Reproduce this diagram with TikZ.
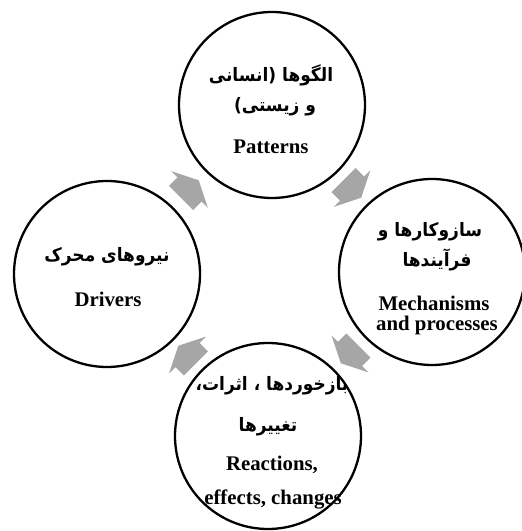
\documentclass[tikz,border=0pt]{standalone}
\usepackage{fontspec}
\setmainfont{Liberation Serif}
\newfontfamily\fa[Script=Arabic,FakeStretch=0.92]{DejaVu Sans}
\TeXXeTstate=1
\usetikzlibrary{calc}
\definecolor{arrowgray}{RGB}{166,166,166}
\tikzset{
  bubble/.style={circle, draw=black, line width=2.3pt, minimum size=186pt, inner sep=0pt},
  entext/.style={font=\fontsize{20.8}{24}\selectfont\bfseries, inner sep=0pt},
  fatext/.style={font=\fa\fontsize{18.5}{22}\selectfont\bfseries, inner sep=0pt},
  blockarrow/.style={fill=arrowgray, draw=none}
}
\newcommand{\cyclearrow}[3]{%
  \fill[blockarrow, shift={($(#1)!0.5!(#2)$)}, rotate=#3]
    (-12,-17) -- (0,-17) -- (0,-26) -- (13,0) -- (0,26) -- (0,17) -- (-12,17) -- cycle;}
\begin{document}
\begin{tikzpicture}[x=1pt,y=1pt]
\useasboundingbox (0,0) rectangle (522,531);
\clip (0,0) rectangle (522,531);
% circles
\node[bubble] (top) at (272,426) {};
\node[bubble] (left) at (107,257) {};
\node[bubble] (right) at (432,259) {};
\node[bubble] (bottom) at (268,95) {};
% arrows
\cyclearrow{left}{top}{45}
\cyclearrow{top}{right}{-45}
\cyclearrow{right}{bottom}{-135}
\cyclearrow{bottom}{left}{135}
% texts
\node[fatext] (t1) at (271,456) {\beginR الگوها (انسانی\endR};
\node[fatext] (t2) at (275,424) {\beginR و زیستی)\endR};
\node[entext] (t3) at (271,384) {Patterns};
\node[fatext] (r1) at (430,299) {\beginR سازوکارها و\endR};
\node[fatext] (r2) at (437,271) {\beginR فرآیندها\endR};
\node[entext] (r3) at (434,228) {Mechanisms};
\node[entext] (r4) at (437,206) {and processes};
\node[fatext] (l1) at (107,274) {\beginR نیروهای محرک\endR};
\node[entext] (l2) at (108,232) {Drivers};
\node[fatext] (b1) at (272,145) {\beginR بازخوردها ، اثرات،\endR};
\node[fatext] (b2) at (268,104) {\beginR تغییرها\endR};
\node[entext] (b3) at (272,66) {Reactions,};
\node[entext] (b4) at (273,32) {effects, changes};
\end{tikzpicture}
\end{document}
